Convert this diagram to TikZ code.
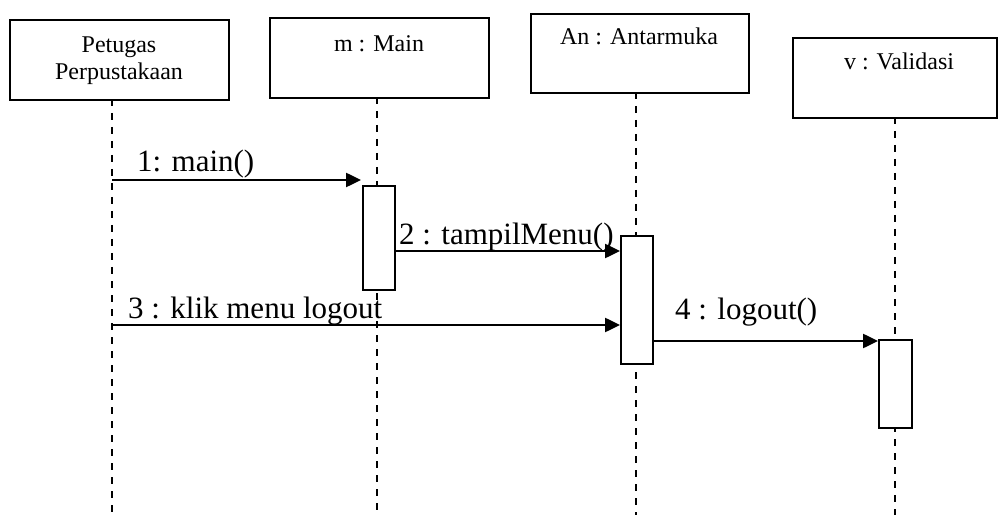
\documentclass[tikz,border=0pt]{standalone}
\usepackage{fontspec}
\setmainfont{Liberation Serif}
\usetikzlibrary{arrows.meta}
\begin{document}
\begin{tikzpicture}[x=1pt,y=-1pt,
  objbox/.style={draw, line width=2pt, fill=white, anchor=north west, inner sep=0pt},
  objtext/.style={anchor=base, inner sep=0pt, font=\fontsize{24}{27.6}\selectfont},
  actbox/.style={draw, line width=2pt, fill=white, anchor=north west, inner sep=0pt},
  lifeline/.style={line width=2pt, dash pattern=on 7pt off 7pt},
  msg/.style={line width=2.5pt, -{Triangle[length=15pt,width=14pt]}},
  msgtext/.style={anchor=base west, inner sep=0pt, font=\fontsize{31}{36}\selectfont}]
\fill[white] (0,0) rectangle (998,521);
\useasboundingbox (0,0) rectangle (998,521);
% lifelines
\coordinate (pTop) at (112,99);  \coordinate (pEnd) at (112,515);
\coordinate (mTop) at (377,97);  \coordinate (mEnd) at (377,515);
\coordinate (aTop) at (636,92);  \coordinate (aEnd) at (636,515);
\coordinate (vTop) at (895,117); \coordinate (vEnd) at (895,515);
\draw[lifeline] (pTop) -- (pEnd);
\draw[lifeline] (mTop) -- (mEnd);
\draw[lifeline] (aTop) -- (aEnd);
\draw[lifeline] (vTop) -- (vEnd);
% object boxes
\node[objbox, minimum width=219pt, minimum height=80pt] (pbox) at (9,19) {};
\node[objbox, minimum width=219pt, minimum height=80pt] (mbox) at (269,17) {};
\node[objbox, minimum width=218pt, minimum height=79pt] (abox) at (530,13) {};
\node[objbox, minimum width=204pt, minimum height=80pt] (vbox) at (792,37) {};
\node[objtext] (ptext1) at (119,53) {Petugas};
\node[objtext] (ptext2) at (119,80) {Perpustakaan};
\node[objtext] (mtext) at (379,52) {m : Main};
\node[objtext] (atext) at (639,45) {An : Antarmuka};
\node[objtext] (vtext) at (899,70) {v : Validasi};
% activations
\node[actbox, minimum width=32pt, minimum height=104pt] (act1) at (362,185) {};
\node[actbox, minimum width=32pt, minimum height=128pt] (act2) at (620,235) {};
\node[actbox, minimum width=33pt, minimum height=88pt] (act3) at (878,339) {};
% messages
\coordinate (m1s) at (112,180); \coordinate (m1e) at (361,180);
\coordinate (m3s) at (112,325);
\draw[msg] (m1s) -- (m1e);
\draw[msg] (act1.east |- 0,251) -- (act2.west |- 0,251);
\draw[msg] (m3s) -- (act2.west |- m3s);
\draw[msg] (act2.east |- 0,341) -- (act3.west |- 0,341);
\node[msgtext] (l1) at (137,172) {1: main()};
\node[msgtext] (l2) at (399,245) {2 : tampilMenu()};
\node[msgtext] (l3) at (128,318) {3 : klik menu logout};
\node[msgtext] (l4) at (675,319) {4 : logout()};
\end{tikzpicture}
\end{document}
